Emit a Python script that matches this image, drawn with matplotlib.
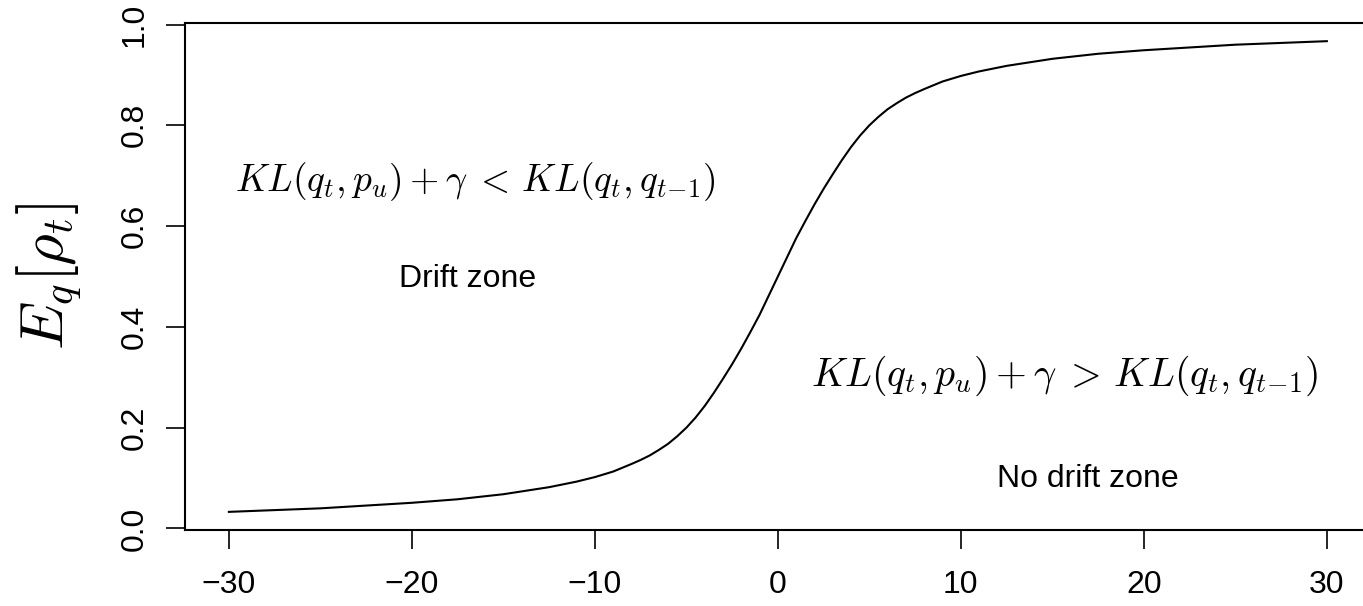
import matplotlib
matplotlib.use("Agg")
import matplotlib.pyplot as plt

plt.rcParams['font.family'] = ['Liberation Sans', 'DejaVu Sans']
plt.rcParams['mathtext.fontset'] = 'cm'

# curve values
x_vals = [-30, -25, -20, -17.5, -15, -12.5, -11, -10, -9, -8, -7.5, -7, -6.5, -6, -5.5, -5, -4.5,
          -4, -3.5, -3, -2.5, -2, -1.5, -1, -0.5,
          0, 0.5, 1, 1.5, 2, 2.5, 3, 3.5, 4, 4.5, 5, 5.5, 6, 6.5, 7, 7.5, 8, 9, 10, 11,
          12.5, 15, 17.5, 20, 25, 30]
y_vals = [0.033, 0.040, 0.051, 0.058, 0.068, 0.082, 0.093, 0.102, 0.113, 0.128, 0.136, 0.145,
          0.156, 0.168, 0.183, 0.200, 0.220, 0.243, 0.269, 0.297, 0.326, 0.357, 0.390, 0.424,
          0.462,
          0.500, 0.538, 0.576, 0.610, 0.643, 0.674, 0.703, 0.731, 0.757, 0.780, 0.800, 0.817,
          0.832, 0.844, 0.855, 0.864, 0.872, 0.887, 0.898, 0.907, 0.918, 0.932, 0.942, 0.949,
          0.960, 0.967]

x_ticks = [-30, -20, -10, 0, 10, 20, 30]
y_ticks = [0.0, 0.2, 0.4, 0.6, 0.8, 1.0]

eq_drift = r'$KL(q_t,p_u)+\gamma\;<\,KL(q_t,q_{t\!-\!1})$'
eq_nodrift = r'$KL(q_t,p_u)+\gamma\;>\,KL(q_t,q_{t\!-\!1})$'

fig = plt.figure(figsize=(13.63, 6.06), dpi=100)
ax = fig.add_axes([0.1357, 0.1254, 0.870, 0.8366])

ax.plot(x_vals, y_vals, color='black', lw=1.5)

ax.set_xlim(-32.4, 32.4)
ax.set_ylim(-0.003, 1.003)
ax.set_xticks(x_ticks)
ax.set_xticklabels(['\u221230', '\u221220', '\u221210', '0', '10', '20', '30'])
ax.set_yticks(y_ticks)
ax.set_yticklabels([f'{v:.1f}' for v in y_ticks], rotation=90, va='center')
ax.tick_params(axis='both', length=13.5, width=1.2, labelsize=23, direction='out')
ax.tick_params(axis='x', pad=15)
ax.tick_params(axis='y', pad=12)
for s in ax.spines.values():
    s.set_linewidth(1.5)

ax.set_ylabel(r'$E_q[\rho_t]$', fontsize=44, labelpad=26)

ax.text(-16.5, 0.689, eq_drift, fontsize=27, ha='center', va='center')
ax.text(-16.95, 0.496, 'Drift zone', fontsize=23, ha='center', va='center')
ax.text(15.7, 0.303, eq_nodrift, fontsize=28.5, ha='center', va='center')
ax.text(16.95, 0.098, 'No drift zone', fontsize=23, ha='center', va='center')

fig.savefig('out.png', dpi=100)
